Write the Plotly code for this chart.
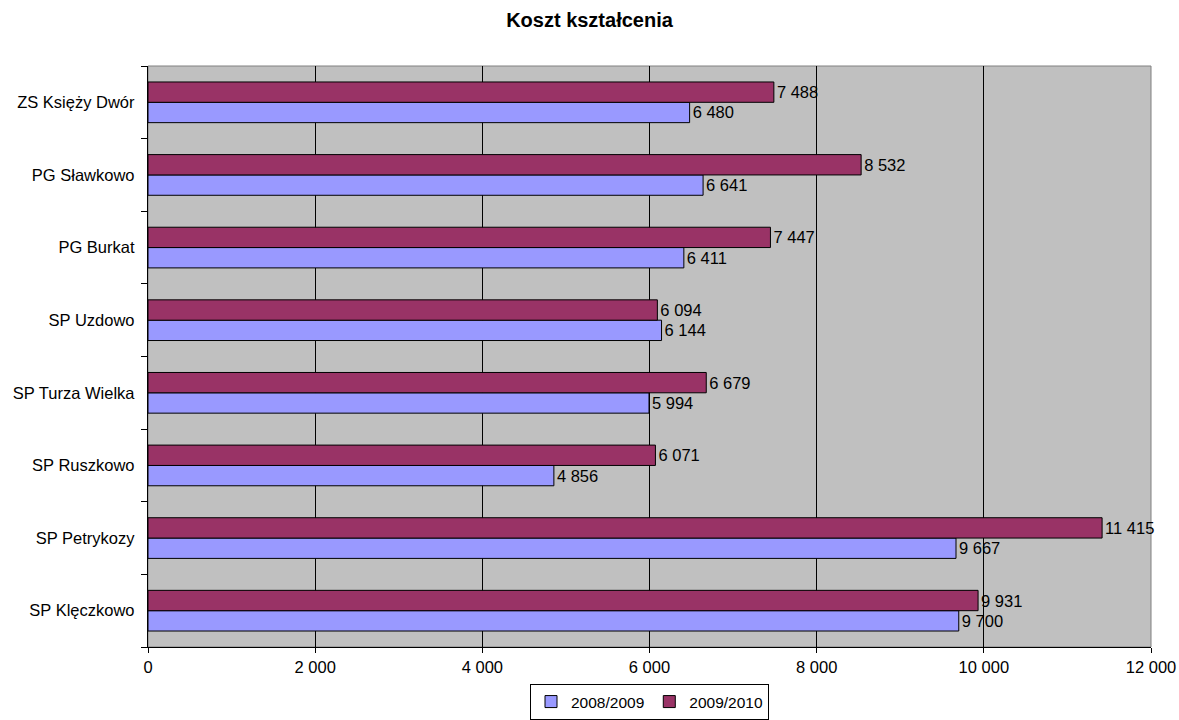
import plotly.graph_objects as go

categories = ["SP Klęczkowo", "SP Petrykozy", "SP Ruszkowo", "SP Turza Wielka",
              "SP Uzdowo", "PG Burkat", "PG Sławkowo", "ZS Księży Dwór"]
values_2008 = [9700, 9667, 4856, 5994, 6144, 6411, 6641, 6480]
values_2009 = [9931, 11415, 6071, 6679, 6094, 7447, 8532, 7488]
series_names = ["2008/2009", "2009/2010"]
x_ticks = [0, 2000, 4000, 6000, 8000, 10000, 12000]


def fmt(v):
    return f"{v:,}".replace(",", " ")


FONT = "Liberation Sans, Arial"
FS = 16.5
W, H = 1179, 720

fig = go.Figure()
for name, vals, color in [(series_names[0], values_2008, "#9999FF"),
                          (series_names[1], values_2009, "#993366")]:
    fig.add_trace(go.Bar(
        y=categories, x=vals, name=name, orientation="h",
        marker=dict(color=color, line=dict(color="black", width=1)),
        text=[fmt(v) for v in vals], textposition="outside",
        textfont=dict(family=FONT, size=FS, color="black"),
        cliponaxis=False,
    ))

fig.update_layout(
    width=W, height=H,
    barmode="group", bargap=0.44, bargroupgap=0,
    separators=", ",
    paper_bgcolor="white", plot_bgcolor="#C0C0C0",
    font=dict(family=FONT, size=FS, color="black"),
    title=dict(text="<b>Koszt kształcenia</b>", x=0.5, xanchor="center",
               y=1 - 20 / H, yanchor="middle", font=dict(size=20)),
    margin=dict(l=148, r=28, t=66, b=73, autoexpand=False),
    showlegend=True,
    legend=dict(orientation="h", x=0.5, xanchor="center",
                yref="container", y=0.0, yanchor="bottom",
                bordercolor="black", borderwidth=1, bgcolor="white",
                font=dict(size=15.5), itemwidth=30, traceorder="normal",
                tracegroupgap=0),
    xaxis=dict(range=[0, 12000], tickvals=x_ticks, tickformat=",d",
               showgrid=True, gridcolor="black", gridwidth=1,
               showline=True, linecolor="black", linewidth=1,
               ticks="outside", ticklen=5, tickcolor="black", zeroline=False,
               tickfont=dict(size=FS), ticklabeloverflow="allow", automargin=False),
    yaxis=dict(categoryorder="array", categoryarray=categories,
               showline=True, linecolor="black", linewidth=1,
               ticks="outside", ticklen=6, tickcolor="black", tickson="boundaries",
               showgrid=False, tickfont=dict(size=FS), ticksuffix="  ", automargin=False),
    shapes=[dict(type="rect", xref="paper", yref="paper", x0=0, x1=1, y0=0, y1=1,
                 line=dict(color="#808080", width=1), layer="below")],
)

fig.write_html(
    "out.html",
    config={"displayModeBar": False},
    post_script="document.body.style.margin='0';document.body.style.overflow='hidden';",
)
